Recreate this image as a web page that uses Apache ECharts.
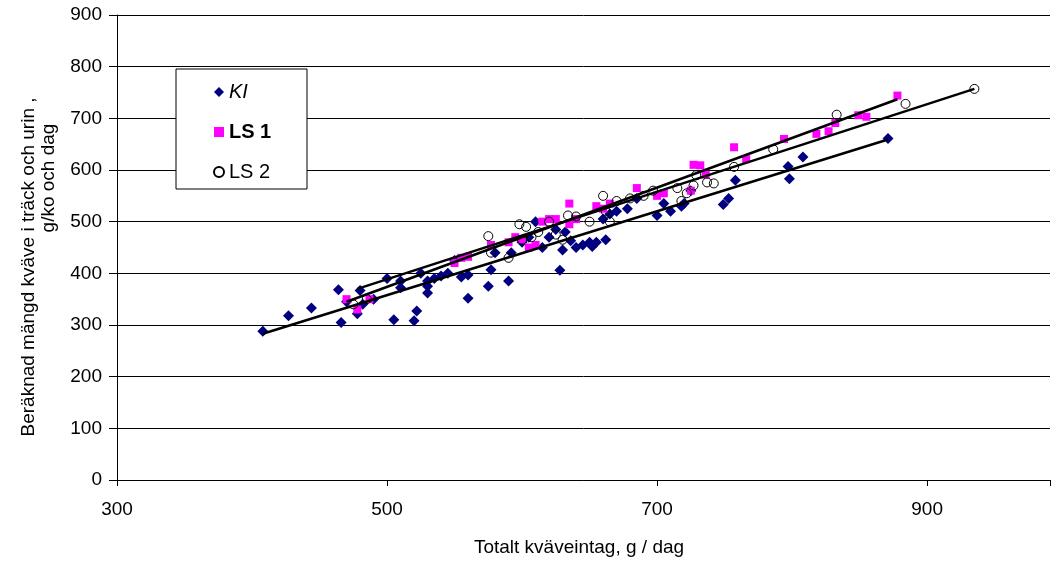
<!DOCTYPE html>
<html><head><meta charset="utf-8">
<script src="https://cdn.jsdelivr.net/npm/echarts@6/dist/echarts.min.js"></script>
<style>html,body{margin:0;padding:0;background:#fff}#c{width:1053px;height:562px}</style>
</head><body><div id="c"></div>
<script>
var xTicks = [300, 500, 700, 900];
var yTicks = [0, 100, 200, 300, 400, 500, 600, 700, 800, 900];
var seriesNames = ['KI', 'LS 1', 'LS 2'];

var kiPoints = [
 [408,288],[427,318],[444,333],[464,368],[466,305],[470,345],[478,322],[480,367],[482,340],[490,350],
 [500,390],[505,310],[510,385],[510,372],[520,308],[522,327],[525,400],[530,385],[530,375],[530,362],
 [535,390],[540,395],[545,400],[550,425],[555,393],[560,397],[560,352],[575,375],[577,407],[580,440],
 [590,385],[592,440],[600,460],[605,470],[610,500],[615,450],[620,470],[625,485],[628,406],[630,445],
 [632,480],[636,463],[640,450],[645,455],[650,460],[652,452],[655,460],[660,505],[662,465],[665,515],
 [670,520],[678,525],[685,545],[700,512],[705,535],[710,520],[718,530],[720,535],[725,560],
 [749,533],[753,545],[758,580],[797,607],[798,583],[808,625],[871,661]
];
var ls1Points = [
 [470,350],[478,330],[487,350],[550,420],[555,430],[560,432],[577,455],[590,460],[595,470],[600,465],
 [605,450],[610,455],[615,500],[620,505],[625,505],[635,495],[635,535],[640,505],[655,530],[660,525],
 [665,535],[685,565],[700,550],[705,555],[725,560],[727,610],[732,609],[736,591],[757,644],[766,621],
 [794,660],[818,670],[827,675],[832,691],[849,706],[855,703],[878,744]
];
var ls2Points = [
 [475,340],[485,350],[575,472],[577,440],[590,430],[598,495],[600,465],[603,490],[607,470],[612,480],
 [620,500],[625,475],[630,465],[634,512],[640,510],[650,500],[660,550],[662,520],[665,500],[670,540],
 [680,545],[690,550],[697,560],[715,565],[718,540],[722,555],[727,570],[729,590],[737,576],[742,574],
 [757,606],[786,640],[833,707],[884,728],[935,757]
];
var kiTrend = [[408,283],[871,659]];
var ls1Trend = [[470,345],[878,737]];
var ls2Trend = [[478,370],[935,757]];

var FONT = "'Liberation Sans', Arial, sans-serif";
var chart = echarts.init(document.getElementById('c'));
chart.setOption({
  animation: false,
  textStyle: {fontFamily: FONT},
  grid: {left: 117, right: 0, top: 15, bottom: 81, containLabel: false},
  xAxis: {
    type: 'value', min: 300, max: 991, interval: 200,
    name: 'Totalt kväveintag, g / dag', nameLocation: 'middle', nameGap: 58,
    nameTextStyle: {fontSize: 19, color: '#000', fontFamily: FONT, padding: [0, 9, 0, 0]},
    axisLine: {show: true, lineStyle: {color: '#000', width: 1}},
    axisTick: {show: true, inside: false, length: 6, lineStyle: {color: '#000'}},
    axisLabel: {fontSize: 19, color: '#000', margin: 20, fontFamily: FONT,
      formatter: function (v) { return xTicks.indexOf(v) >= 0 ? String(v) : ''; }},
    splitLine: {show: false}
  },
  yAxis: {
    type: 'value', min: 0, max: 900, interval: 100,
    axisLine: {show: true, lineStyle: {color: '#000', width: 1}},
    axisTick: {show: true, inside: false, length: 8, lineStyle: {color: '#000'}},
    axisLabel: {fontSize: 19, color: '#000', margin: 15, fontFamily: FONT,
      formatter: function (v) { return yTicks.indexOf(v) >= 0 ? String(v) : ''; }},
    splitLine: {show: true, lineStyle: {color: '#000', width: 1}}
  },
  graphic: [
    {type: 'text', rotation: Math.PI / 2, x: 29, y: 267,
     style: {text: 'Beräknad mängd kväve i träck och urin ,', fontSize: 19, fontFamily: FONT, fill: '#000', align: 'center', verticalAlign: 'middle'}},
    {type: 'text', rotation: Math.PI / 2, x: 49, y: 178,
     style: {text: 'g/ko och dag', fontSize: 19, fontFamily: FONT, fill: '#000', align: 'center', verticalAlign: 'middle'}},
    {type: 'rect', shape: {x: 176, y: 69, width: 131, height: 120}, z: 5,
     style: {fill: '#fff', stroke: '#000', lineWidth: 1}}
  ],
  legend: {
    orient: 'vertical', left: 213, top: 81, z: 10, padding: 0,
    itemWidth: 10, itemHeight: 10, itemGap: 18,
    textStyle: {fontSize: 20, color: '#000', fontFamily: FONT, lineHeight: 22},
    data: [
      {name: seriesNames[0], textStyle: {fontStyle: 'italic'}},
      {name: seriesNames[1], textStyle: {fontWeight: 'bold'}},
      {name: seriesNames[2]}
    ]
  },
  series: [
    {name: seriesNames[0], type: 'scatter', data: kiPoints, symbol: 'diamond', symbolSize: 11,
     itemStyle: {color: '#000080', opacity: 1}},
    {name: seriesNames[1], type: 'scatter', data: ls1Points, symbol: 'rect', symbolSize: 8,
     itemStyle: {color: '#FF00FF', opacity: 1}},
    {name: seriesNames[2], type: 'scatter', data: ls2Points, symbol: 'circle', symbolSize: 9,
     itemStyle: {color: 'rgba(255,255,255,0)', borderColor: '#000', borderWidth: 1, opacity: 1}},
    {name: 'KI trend', type: 'line', data: kiTrend, showSymbol: false, symbol: 'none',
     lineStyle: {color: '#000', width: 2.5}, z: 3},
    {name: 'LS 1 trend', type: 'line', data: ls1Trend, showSymbol: false, symbol: 'none',
     lineStyle: {color: '#000', width: 2.5}, z: 3},
    {name: 'LS 2 trend', type: 'line', data: ls2Trend, showSymbol: false, symbol: 'none',
     lineStyle: {color: '#000', width: 2.5}, z: 3}
  ]
});
</script></body></html>
